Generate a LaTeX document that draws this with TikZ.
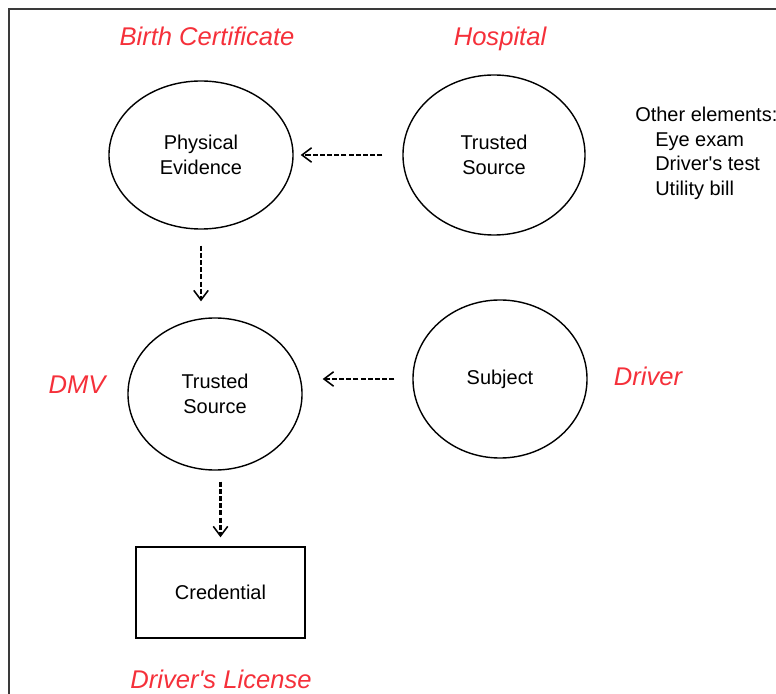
\documentclass[tikz,border=0pt]{standalone}
\usepackage{fontspec}
\setmainfont{Liberation Sans}[Ligatures=TeXOff]
\usetikzlibrary{positioning, shapes.geometric, arrows.meta, calc}
\definecolor{idred}{HTML}{F5303A}
\definecolor{idframe}{HTML}{3A3A3A}

\begin{document}
\begin{tikzpicture}[x=0.025cm, y=-0.025cm,
    role/.style={ellipse, draw, line width=1pt, align=center, inner sep=0pt,
      font=\fontsize{14.2}{17.6}\selectfont},
    doc/.style={rectangle, draw, line width=1pt, font=\fontsize{14.2}{17.6}\selectfont},
    tag/.style={text=idred, anchor=base, font=\fontsize{18.2}{21}\selectfont\itshape},
    note/.style={anchor=base west, inner sep=0pt, font=\fontsize{14.2}{17.6}\selectfont},
    feed/.style={line width=1.9pt, dash pattern=on 3.6pt off 1.5pt,
      -{Straight Barb[length=0.24cm, width=0.36cm, line width=1.1pt]}}]
        \useasboundingbox (0,0) rectangle (776,694);
        \draw[idframe, line width=1.4pt] (9,700) -- (9,9) -- (790,9);
        % nodes
        \node[role, minimum width=4.6cm, minimum height=3.7cm] (phys) at (201,155) {Physical\\Evidence};
        \node[role, minimum width=4.55cm, minimum height=4cm] (hosp) at (494,155) {Trusted\\Source};
        \node[role, minimum width=4.35cm, minimum height=3.8cm] (dmv) at (215,394) {Trusted\\Source};
        \node[role, minimum width=4.35cm, minimum height=3.95cm] (subj) at (500,379) {Subject};
        \node[doc, minimum width=4.225cm, minimum height=2.275cm] (cred) at (220.5,592.5) {Credential};
        % red labels
        \node[tag] (birth) at (207,46) {Birth Certificate};
        \node[tag] (hosplbl) at (500,46) {Hospital};
        \node[tag] (dmvlbl) at (77,394) {DMV};
        \node[tag] (driver) at (648,386) {Driver};
        \node[tag] (license) at (221,688) {Driver's License};
        % other elements
        \node[note] (other) at (635,122) {Other elements:};
        \foreach \t/\y [count=\i] in {Eye exam/146.5, Driver's test/171, Utility bill/195.5}
          \node[note] (item\i) at (655,\y) {\t};
        % connectors
        \draw[feed, shorten <=0.5cm, shorten >=0.175cm] (hosp.west) -- (hosp.west -| phys.east);
        \draw[feed, shorten <=0.4cm, shorten >=0.4cm] (phys.south) -- (phys.south |- dmv.north);
        \draw[feed, shorten <=0.45cm, shorten >=0.5cm] (subj.west) -- (subj.west -| dmv.east);
        \draw[feed, shorten <=0.275cm, shorten >=0.225cm] (cred.north |- dmv.south) -- (cred.north);
      \end{tikzpicture}
\end{document}
